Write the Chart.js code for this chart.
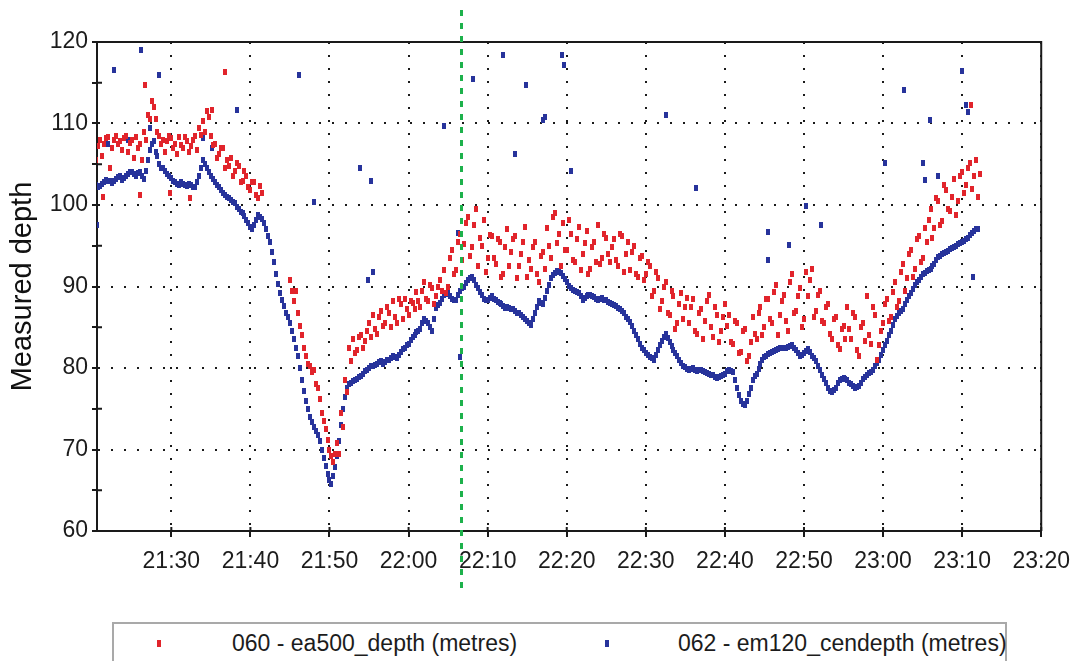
<!DOCTYPE html>
<html><head><meta charset="utf-8">
<script src="https://cdn.jsdelivr.net/npm/chart.js@4.4.1/dist/chart.umd.min.js"></script>
<style>
html,body{margin:0;padding:0;background:#fff;}
#wrap{position:relative;width:1081px;height:661px;overflow:hidden;}
canvas{display:block;}
#legend{position:absolute;left:112px;top:622px;width:895px;height:60px;border:2px solid #a9a9a9;border-bottom:none;box-sizing:border-box;background:#fff;font-family:'Liberation Sans',Arial,sans-serif;font-size:23px;line-height:28px;color:#1c1c1c;}
.item{position:absolute;top:5px;white-space:nowrap;}
.sw{position:absolute;top:16px;width:4px;height:7px;}
</style></head>
<body>
<div id="wrap">
<canvas id="c" width="1081" height="661"></canvas>
<div id="legend">
  <div class="sw" style="left:43px;background:#e1242b"></div>
  <div class="item" style="left:118px">060 - ea500_depth (metres)</div>
  <div class="sw" style="left:491px;background:#27339b"></div>
  <div class="item" style="left:564px">062 - em120_cendepth (metres)</div>
</div>
</div>
<script>
// Sample times: minutes after 21:00, starting at startMinute, one reading every sampleStep minutes
const startMinute = 20.5;
const sampleStep = 0.5;

// 062 - em120_cendepth (metres), first reading per sample time
const em120DepthA = [
  102.5, 102.3, 102.8, 103, 102.7, 103.2, 103.5, 103.3, 103.8, 104,
  103.6, 104, 103.2, 105.5, 107.5, 106.5, 105, 104.5, 103.8, 103.3,
  102.8, 102.5, 102.6, 102.3, 102.5, 102.2, 103.5, 105.5, 104.5, 103.5,
  102.8, 102.2, 101.5, 101, 100.6, 100.2, 99.5, 99, 98.2, 97.3,
  97.5, 98.8, 98.3, 97, 95.5, 93, 90.3, 88.3, 86.8, 85.5,
  83.5, 81.5, 78.5, 76, 74, 72.8, 71.8, 70, 68, 66.3,
  66.8, 69.2, 73, 76.5, 78, 78.4, 78.7, 79, 79.6, 80,
  80.3, 80.5, 80.8, 80.7, 81, 81.5, 81.2, 82, 82.5, 83,
  83.8, 84.4, 84.8, 86, 85.5, 84.5, 87.4, 88, 89, 89.2,
  88.5, 88.3, 89.5, 90, 90.8, 91.2, 90.2, 89.3, 88.5, 88.4,
  88.8, 88.3, 88, 87.6, 87.5, 87.3, 87, 86.7, 86.3, 85.8,
  85.3, 86.8, 88.2, 87.8, 89.5, 91, 91.7, 91.8, 91.3, 90.5,
  89.8, 89.5, 89.2, 88.4, 88.8, 89, 88.7, 88.3, 88.6, 88.3,
  88, 87.7, 87.4, 87, 86.3, 85.6, 84.6, 83.6, 82.5, 81.9,
  81.4, 81, 82.2, 83.3, 84.2, 83.2, 82.2, 81.5, 80.6, 80.1,
  79.7, 80, 79.6, 79.8, 79.5, 79.3, 79.1, 78.8, 79, 79.3,
  79.8, 79.5, 77.5, 76, 75.4, 76.8, 78.5, 79.3, 80.5, 81.3,
  81.7, 82, 82.2, 82.4, 82.4, 82.6, 82.8, 82.2, 81.5, 81.8,
  82.3, 81.5, 80.8, 79.8, 78.6, 77.6, 77, 77.6, 78.5, 78.8,
  78.5, 78, 77.6, 77.8, 78.6, 79.2, 79.5, 80.2, 81, 82.2,
  83.3, 84.6, 86, 86.7, 87.3, 88.3, 89.2, 90.2, 90.8, 91.5,
  91.9, 92.1, 92.8, 93.6, 94, 94.2, 94.6, 94.8, 95.2, 95.4,
  95.8, 96.3, 96.8, 97.1
];

// 062 - em120_cendepth (metres), second reading, half a step after each sample time
const em120DepthB = [
  102.2, 102.6, 103.1, 102.9, 103, 103.4, 103.1, 103.6, 104.1, 103.8,
  103.9, 103.5, 104.2, 106.8, 107.8, 106, 104.6, 104.2, 103.5, 103,
  102.6, 102.8, 102.4, 102.6, 102.2, 102.8, 104.5, 105, 104, 103.2,
  102.5, 101.8, 101.2, 100.8, 100.4, 99.8, 99.2, 98.6, 97.8, 97,
  98.2, 98.5, 97.8, 96.2, 94.2, 91.5, 89.2, 87.6, 86.2, 84.5,
  82.5, 80, 77.2, 75, 73.4, 72.3, 71, 69, 67, 65.8,
  67.8, 71, 75, 77.5, 78.2, 78.5, 78.9, 79.3, 79.8, 80.2,
  80.4, 80.7, 80.5, 81, 81.2, 81.4, 81.6, 82.3, 82.8, 83.4,
  84, 84.6, 85.5, 85.8, 85, 86, 87.7, 88.5, 89.1, 88.8,
  88.4, 89, 89.8, 90.4, 91, 90.8, 89.8, 88.9, 88.4, 88.6,
  88.5, 88.1, 87.8, 87.4, 87.4, 87.2, 86.8, 86.5, 86, 85.5,
  86, 87.5, 88, 88.6, 90.2, 91.4, 91.9, 91.6, 90.9, 90.1,
  89.6, 89.3, 88.8, 88.6, 88.9, 88.8, 88.5, 88.5, 88.4, 88.1,
  87.8, 87.6, 87.2, 86.7, 86, 85.1, 84.1, 83, 82.2, 81.6,
  81.2, 81.6, 82.8, 83.8, 83.7, 82.7, 81.8, 81, 80.3, 79.9,
  79.9, 79.8, 79.7, 79.6, 79.4, 79.2, 78.9, 78.9, 79.2, 79.6,
  79.6, 78.5, 76.7, 75.6, 76, 77.6, 79, 79.9, 81, 81.5,
  81.8, 82.1, 82.3, 82.5, 82.5, 82.7, 82.5, 81.8, 81.6, 82.1,
  82, 81.2, 80.3, 79.2, 78.1, 77.2, 77.3, 78.1, 78.7, 78.6,
  78.2, 77.8, 77.7, 78.2, 78.9, 79.4, 79.8, 80.6, 81.6, 82.8,
  84, 85.3, 86.4, 87, 87.8, 88.8, 89.7, 90.5, 91.2, 91.7,
  92, 92.5, 93.2, 93.8, 94.1, 94.4, 94.7, 95, 95.3, 95.6,
  96, 96.6, 97, null
];

// 060 - ea500_depth (metres), first reading per sample time
const ea500DepthA = [
  105.5, 108, 107.5, 108.3, 107, 108.5, 107.8, 108.2, 106.5, 108,
  108.3, 107.5, 109, 111, 112.8, 110.5, 108.5, 108, 107.8, 108.2,
  107.5, 108.3, 107, 107.8, 107.2, 108.5, 109.5, 110.3, 111.5, 108.5,
  107.5, 106.2, 107, 105.5, 105.8, 104.2, 104.8, 103, 103.5, 101.8,
  102.8, 100.8, 101.5, null, null, null, null, null, null, 90.8,
  88.2, 86.8, 84, 81.5, 80.2, 79.8, 77.5, 74.5, 72.5, 70,
  68.5, 70.8, 74.5, 78.5, 82.5, 83.5, 82.2, 84, 83.3, 85.5,
  86.5, 84.2, 87, 85.5, 86.8, 88.2, 85.5, 87.8, 88.5, 86.5,
  88, 89.3, 87.5, 90.5, 88.2, 89.8, 88.8, 90.8, 92, 90,
  94.5, 92, 96.5, 95.2, 98.5, 94.8, 99.5, 96, 98.2, 93.5,
  96.2, 92.8, 95.5, 91.5, 97, 94.2, 96.2, 92.5, 95.5, 91.2,
  92.2, 95.5, 90.5, 94.2, 97.2, 93.5, 99, 96.5, 97.8, 94.5,
  96.5, 93, 97.3, 94, 96.8, 92.2, 95.5, 97.5, 93.5, 96,
  93, 95.8, 92.5, 96.2, 94, 92, 95, 91.2, 93.8, 91.5,
  92.5, 89.5, 91, 88.2, 90.5, 86.5, 88.8, 85.5, 89.2, 87.5,
  85.5, 88.5, 84.2, 87.2, 85.8, 89, 83.8, 86.5, 84.5, 87.8,
  86.5, 83, 85.5, 82, 84.8, 81.5, 86.2, 83.5, 87.5, 85,
  88.5, 85.5, 90.2, 86.5, 89, 84.5, 91.5, 87, 89.8, 86,
  88.8, 92.2, 87, 89.5, 85.5, 87.8, 83.5, 86.3, 82.3, 85.2,
  87.5, 83.5, 86.2, 81.5, 85.5, 88.8, 83, 86.5, 82.8, 85.5,
  88.5, 86.2, 90.5, 88.2, 92.8, 91, 94.5, 92.2, 96.2, 93.5,
  95.5, 99.5, 97.2, 100.5, 98, 101.8, 99.3, 103.2, 100.5, 104,
  102.5, 105.2, 103.5, 101
];

// 060 - ea500_depth (metres), second reading, half a step after each sample time
const ea500DepthB = [
  107.2, 106, 108.2, 104.5, 108, 107.5, 106.8, 108.5, 107.6, 105.8,
  107, 105.5, 108, 110.5, 112, 109, 107.5, 106.5, 108.5, 107,
  106.2, 107.4, 108.4, 106.5, 108, 106.8, 108.6, 109, 110.8, 107.4,
  105.8, 107, 104.5, 104.8, 103.5, 105.2, 102.8, 104.2, 102.2, 102.8,
  101.2, 102.3, null, null, null, null, null, null, null, 89.5,
  89.5, 85.2, 82.5, 80.5, 79.5, 78, 76.2, 73.5, 71.2, 69.2,
  69.5, 69.5, 72.8, 77, 80.8, 81.8, 83.8, 82.5, 84.5, 83.8,
  84.8, 86.3, 85.2, 87.5, 85, 86.2, 88.5, 86, 87.3, 88.2,
  87.2, 88.2, 89.5, 88.5, 90.2, 87.8, 90, 89.5, 89.2, 93.5,
  91.5, 95.5, 93.2, 97.8, 93.8, 97.5, 92.5, 95, 91.8, 96.3,
  93.5, 95.8, 91.2, 94.8, 92.5, 95.8, 91, 94, 97.3, 93.3,
  94.8, 91.5, 93.8, 92.2, 95, 98.5, 95.3, 92.5, 94.5, 98.2,
  93.3, 95.8, 92, 95.3, 91.5, 94.8, 93, 92.8, 96.5, 94,
  94.8, 93.2, 96.5, 91.8, 95.5, 94.2, 91.5, 93.5, 90.8, 93,
  88.8, 91.8, 87.2, 90, 86.8, 89.5, 84.8, 87.8, 86, 88.6,
  87.5, 84.5, 86.8, 83.5, 88.2, 85, 87.5, 83.2, 86.3, 85.2,
  83.2, 85.8, 81.8, 84.5, 80.8, 83.2, 84.2, 86.8, 84, 88.5,
  86, 89.3, 84, 88.2, 85.8, 90.5, 86.8, 88.8, 85, 91.8,
  90.8, 86.3, 89, 85.8, 87.5, 84.2, 86, 82.8, 84.8, 83.5,
  84.8, 86.8, 82.2, 85, 83.3, 84, 87.5, 81, 84.5, 87.8,
  85.8, 89.3, 87.5, 91.8, 89.5, 94, 91.2, 95.8, 93, 97.2,
  98.2, 96, 100.8, 97.5, 102.5, 99.5, 101, 98.8, 103.5, 101.5,
  104.5, 102, 105.5, 103.8
];

// isolated readings away from the main tracks (minute after 21:00, depth)
const em120SpikeMinutes = [20.6, 22.0, 22.8, 24.5, 26.2, 27.3, 28.4, 34.0, 35.2, 38.3,
  46.2, 48.1, 53.8, 54.9, 55.3, 55.5, 64.5, 66.2, 66.5, 68.2,
  72.0, 73.4, 74.8, 77.0, 77.3, 79.4, 79.6, 80.6, 92.6, 96.4,
  105.5, 105.5, 108.1, 110.3, 112.2, 120.2, 122.7, 125.1, 125.3, 125.9,
  126.9, 130.0, 130.5, 130.8, 131.4];
const em120SpikeDepth = [97.5, 107.5, 116.6, 108, 119, 109.5, 116, 108.2, 107, 111.7,
  116, 100.4, 104.5, 90.8, 103, 91.8, 109.7, 96.6, 81.3, 115.4,
  118.4, 106.3, 114.7, 110.4, 110.8, 118.4, 117.2, 104.2, 111, 102.1,
  96.7, 93.3, 95.1, 99.9, 97.5, 105.2, 114.1, 105.2, 103.1, 110.4,
  103.6, 116.4, 112.3, 111.4, 91.2];
const ea500SpikeMinutes = [21.4, 26.0, 26.7, 29.8, 32.4, 35.1, 36.8, 131.1];
const ea500SpikeDepth = [101, 101.2, 114.7, 101.5, 100.9, 111.7, 116.3, 112.3];

const xTickMinutes = [30, 40, 50, 60, 70, 80, 90, 100, 110, 120, 130, 140];
const xTickLabels = ['21:30', '21:40', '21:50', '22:00', '22:10', '22:20', '22:30', '22:40', '22:50', '23:00', '23:10', '23:20'];
const yTickValues = [60, 65, 70, 75, 80, 85, 90, 95, 100, 105, 110, 115, 120];
const cursorMinute = 66.65;

const SANS = "'Liberation Sans',Arial,sans-serif";
const INK = '#1a1a1a';

function toPoints(arr, offset) {
  const out = [];
  arr.forEach((v, i) => { if (v !== null) out.push({x: startMinute + offset + i * sampleStep, y: v}); });
  return out;
}
function spikes(mins, deps) { return mins.map((m, i) => ({x: m, y: deps[i]})); }
function marker(color) {
  const c = document.createElement('canvas'); c.width = 4; c.height = 6;
  const g = c.getContext('2d'); g.fillStyle = color; g.fillRect(0, 0, 4, 6); return c;
}

const redPts = toPoints(ea500DepthA, 0).concat(toPoints(ea500DepthB, sampleStep / 2), spikes(ea500SpikeMinutes, ea500SpikeDepth));
const bluePts = toPoints(em120DepthA, 0).concat(toPoints(em120DepthB, sampleStep / 2), spikes(em120SpikeMinutes, em120SpikeDepth));

const framePlugin = {
  id: 'frame',
  afterDraw(chart) {
    const {ctx, chartArea: a, scales} = chart;
    ctx.save();
    ctx.strokeStyle = INK; ctx.lineWidth = 2;
    ctx.beginPath();
    ctx.moveTo(a.left, a.top); ctx.lineTo(a.right, a.top); ctx.lineTo(a.right, a.bottom);
    ctx.stroke();
    // short tick stubs on the inner side of the axes
    ctx.beginPath();
    xTickMinutes.forEach(m => { const px = scales.x.getPixelForValue(m); ctx.moveTo(px, a.bottom); ctx.lineTo(px, a.bottom - 4); });
    yTickValues.forEach(v => { const py = scales.y.getPixelForValue(v); ctx.moveTo(a.left, py); ctx.lineTo(a.left + (v % 10 === 0 ? 0 : 5), py); });
    ctx.stroke();
    const gx = Math.round(scales.x.getPixelForValue(cursorMinute)) + 0.5;
    ctx.strokeStyle = '#1db14b'; ctx.lineWidth = 3; ctx.setLineDash([6, 7]);
    ctx.beginPath(); ctx.moveTo(gx, 10); ctx.lineTo(gx, 592); ctx.stroke();
    ctx.restore();
  }
};

new Chart(document.getElementById('c'), {
  type: 'scatter',
  data: {
    datasets: [
      {label: '060 - ea500_depth (metres)', data: redPts, pointStyle: marker('#e1242b'), pointRadius: 3, pointHoverRadius: 3},
      {label: '062 - em120_cendepth (metres)', data: bluePts, pointStyle: marker('#27339b'), pointRadius: 3, pointHoverRadius: 3}
    ]
  },
  options: {
    responsive: false, animation: false, devicePixelRatio: 1,
    layout: {padding: {top: 42, right: 32, left: 0, bottom: 0}},
    plugins: {legend: {display: false}, tooltip: {enabled: false}},
    scales: {
      x: {
        type: 'linear', min: 20.6, max: 140,
        afterBuildTicks: s => { s.ticks = xTickMinutes.map(v => ({value: v})); },
        afterFit: s => { s.height = 130; },
        ticks: {autoSkip: false, maxRotation: 0, minRotation: 0, padding: 11, color: '#1c1c1c',
          font: {family: SANS, size: 23},
          callback: v => { const i = xTickMinutes.indexOf(v); return i >= 0 ? xTickLabels[i] : ''; }},
        grid: {color: INK, lineWidth: 2, tickLength: 6, tickColor: INK, tickWidth: 2, tickBorderDash: []},
        border: {display: true, color: INK, width: 2, dash: [2, 11]}
      },
      y: {
        min: 60, max: 120,
        afterBuildTicks: s => { s.ticks = yTickValues.map(v => ({value: v})); },
        afterFit: s => { s.width = 97; },
        ticks: {padding: 4, color: '#1c1c1c', font: {family: SANS, size: 23},
          callback: v => (v % 10 === 0 ? String(v) : '')},
        grid: {color: c => (c.tick && c.tick.value % 10 === 0 ? INK : 'rgba(0,0,0,0)'), lineWidth: 2,
          tickLength: 5, tickColor: INK, tickWidth: 2, tickBorderDash: []},
        border: {display: true, color: INK, width: 2, dash: [2, 11]},
        title: {display: true, text: 'Measured depth', color: '#111', font: {family: SANS, size: 29}, padding: {top: 6, bottom: 0}}
      }
    }
  },
  plugins: [framePlugin]
});
</script>
</body></html>
